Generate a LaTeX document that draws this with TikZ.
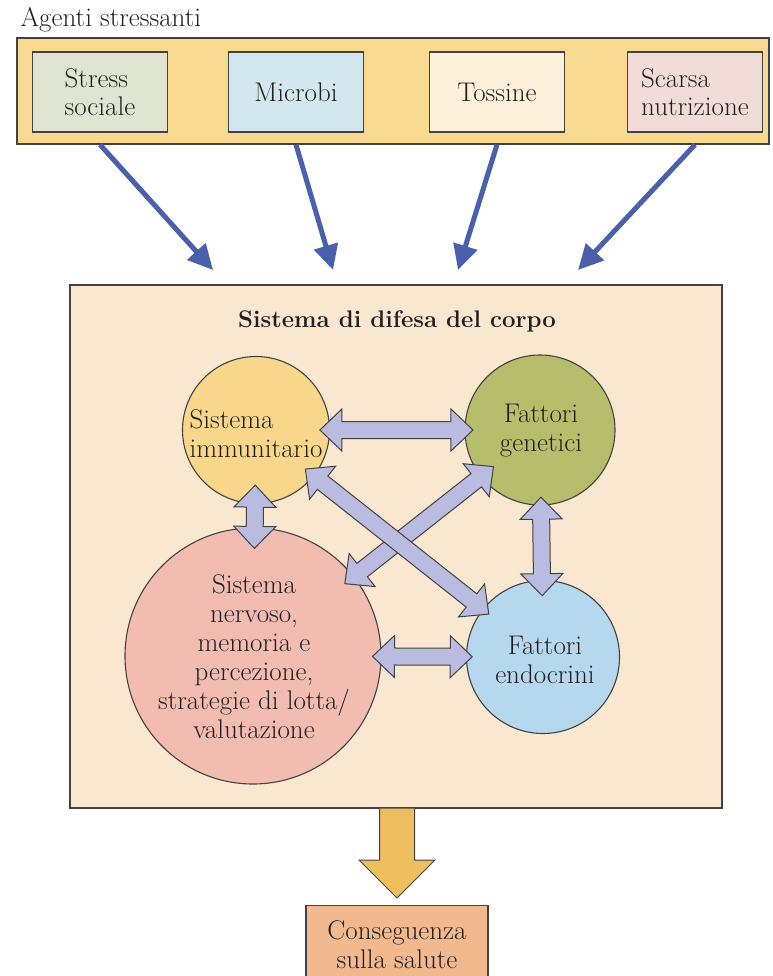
\documentclass[tikz,border=0pt]{standalone}
\usetikzlibrary{calc,arrows.meta}
\definecolor{bandyellow}{HTML}{F7D98F}
\definecolor{stressgreen}{HTML}{DFE5D1}
\definecolor{microbiblue}{HTML}{D3E7EF}
\definecolor{tossinecream}{HTML}{FDF0DA}
\definecolor{scarsapink}{HTML}{F2DCDA}
\definecolor{defensefill}{HTML}{F9E7CF}
\definecolor{immyellow}{HTML}{F8D78A}
\definecolor{genolive}{HTML}{B6BE6C}
\definecolor{nervpink}{HTML}{F3BCB1}
\definecolor{endoblue}{HTML}{B5D8EE}
\definecolor{lavender}{HTML}{B9BCE0}
\definecolor{feedblue}{HTML}{4A60AC}
\definecolor{outyellow}{HTML}{EEBD5E}
\definecolor{consorange}{HTML}{F1B98D}
\definecolor{ink}{HTML}{231F20}
\def\hl{22pt}
\def\hw{21pt}
\def\sw{8.5pt}
\newcommand\dblarrow[2]{%
	\filldraw[twoway] (#1)
		-- ($(#1)!\hl!(#2)!\hw!90:(#2)$)
		-- ($(#1)!\hl!(#2)!\sw!90:(#2)$)
		-- ($(#2)!\hl!(#1)!\sw!-90:(#1)$)
		-- ($(#2)!\hl!(#1)!\hw!-90:(#1)$)
		-- (#2)
		-- ($(#2)!\hl!(#1)!\hw!90:(#1)$)
		-- ($(#2)!\hl!(#1)!\sw!90:(#1)$)
		-- ($(#1)!\hl!(#2)!\sw!-90:(#2)$)
		-- ($(#1)!\hl!(#2)!\hw!-90:(#2)$)
		-- cycle;}
\begin{document}
\begin{tikzpicture}[x=1pt, y=-1pt]
			\tikzset{
				agent/.style={draw=ink!85, line width=1.3pt, minimum width=135pt, minimum height=80pt, align=left, text=ink, font=\fontsize{27}{28}\selectfont},
				ball/.style={circle, draw=ink!85, line width=1.1pt, inner sep=0pt},
				txt/.style={text=ink, font=\fontsize{27}{29}\selectfont},
				feed/.style={draw=feedblue, line width=5pt, -{Triangle[length=25pt, width=24pt]}},
				twoway/.style={fill=lavender, draw=ink!85, line width=1pt, line join=miter}
			}
			\useasboundingbox (0,0) rectangle (772,976);
			\node[txt, anchor=west] (title) at (17,20) {Agenti stressanti};
			\node[draw=ink!85, line width=1.3pt, fill=bandyellow, minimum width=752pt, minimum height=106pt] (band) at (393,91) {};
			\node[agent, fill=stressgreen] (stress) at (100,92) {Stress\\sociale};
			\node[agent, fill=microbiblue] (microbi) at (296,92) {Microbi};
			\node[agent, fill=tossinecream] (tossine) at (497,92) {Tossine};
			\node[agent, fill=scarsapink] (scarsa) at (695,92) {Scarsa\\nutrizione};
			\node[draw=ink!85, line width=1.3pt, fill=defensefill, minimum width=652pt, minimum height=523pt] (defense) at (396,546.5) {};
			\node[txt, font=\fontsize{24}{28}\selectfont\bfseries] (defensetitle) at (397,321) {Sistema di difesa del corpo};
			\coordinate (in1) at (213,270);
			\coordinate (in2) at (333,270);
			\coordinate (in3) at (458,270);
			\coordinate (in4) at (578,270);
			\draw[feed] (stress |- band.south) -- (in1);
			\draw[feed] (microbi |- band.south) -- (in2);
			\draw[feed] (tossine |- band.south) -- (in3);
			\draw[feed] (scarsa |- band.south) -- (in4);
			\node[ball, fill=immyellow, minimum size=147pt] (imm) at (256,430) {};
			\node[ball, fill=genolive, minimum size=150pt] (gen) at (540,430) {};
			\node[ball, fill=nervpink, minimum size=256pt] (nerv) at (253,656) {};
			\node[ball, fill=endoblue, minimum size=153pt] (endo) at (543,657) {};
			\node[txt, align=left] (immtxt) at (256,434) {Sistema\\immunitario};
			\node[txt, align=center] (gentxt) at (541,431) {Fattori\\genetici};
			\node[txt, align=center] (nervtxt) at (254,657) {Sistema\\nervoso,\\memoria e\\percezione,\\strategie di lotta/\\valutazione};
			\node[txt, align=center] (endotxt) at (545,660) {Fattori\\endocrini};
			\coordinate (ig1) at ($(imm)!0.225!(gen)$);
			\coordinate (ig2) at ($(imm)!0.764!(gen)$);
			\coordinate (in1a) at ($(imm)!0.244!(nerv)$);
			\coordinate (in2a) at ($(imm)!0.524!(nerv)$);
			\coordinate (ge1) at ($(gen)!0.296!(endo)$);
			\coordinate (ge2) at ($(gen)!0.73!(endo)$);
			\coordinate (ne1) at ($(nerv)!0.412!(endo)$);
			\coordinate (ne2) at ($(nerv)!0.756!(endo)$);
			\coordinate (ie1) at ($(imm)!0.172!(endo)$);
			\coordinate (ie2) at ($(imm)!0.811!(endo)$);
			\coordinate (gn1) at ($(gen)!0.162!(nerv)$);
			\coordinate (gn2) at ($(gen)!0.68!(nerv)$);
			\dblarrow{ig1}{ig2}
			\dblarrow{in1a}{in2a}
			\dblarrow{ge1}{ge2}
			\dblarrow{ne1}{ne2}
			\dblarrow{gn1}{gn2}
			\dblarrow{ie1}{ie2}
			\node[draw=ink!85, line width=1.3pt, fill=consorange, anchor=north, minimum width=182pt, minimum height=78pt, align=center, txt] (cons) at (397,905) {Conseguenza\\sulla salute};
			\coordinate (tip) at ($(cons.north)+(0,-7)$);
			\filldraw[fill=outyellow, draw=ink!85, line width=1pt] ($(tip |- defense.south)+(-17.5,0)$) -- ($(tip)+(-17.5,-38)$) -- ($(tip)+(-38,-38)$) -- (tip) -- ($(tip)+(38,-38)$) -- ($(tip)+(17.5,-38)$) -- ($(tip |- defense.south)+(17.5,0)$);
		\end{tikzpicture}
\end{document}
